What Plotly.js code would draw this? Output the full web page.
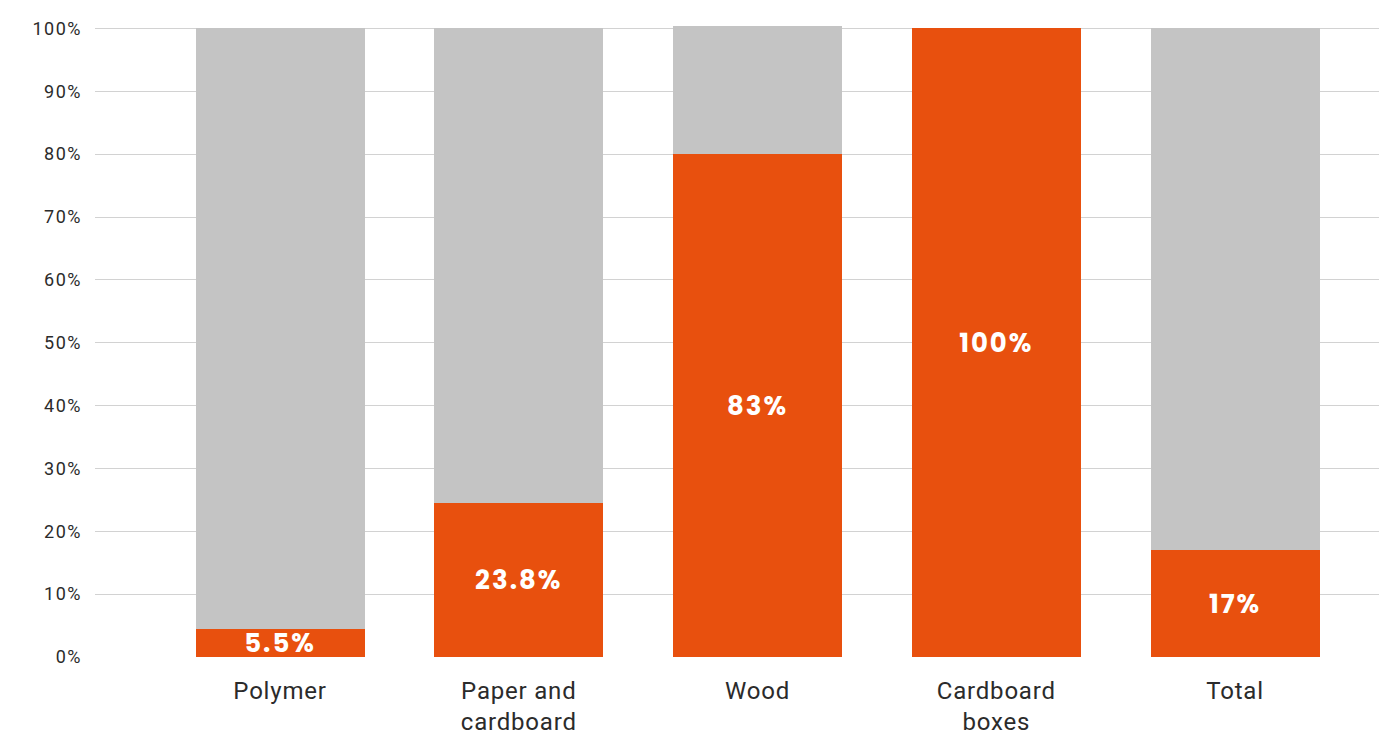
<!DOCTYPE html>
<html>
<head>
<meta charset="utf-8">
<script src="https://cdn.plot.ly/plotly-3.0.1.min.js"></script>
<style>
  html, body { margin: 0; padding: 0; background: #fff; }
  #chart { width: 1379px; height: 737px; }
  .ytick text { letter-spacing: 1.5px; }
  .xtick text { letter-spacing: 0.8px; }
  .bars .bartext { letter-spacing: 2px; }
</style>
</head>
<body>
<div id="chart"></div>
<script>
// Categories (x-axis tick labels)
const categories = ["Polymer", "Paper and<br>cardboard", "Wood", "Cardboard<br>boxes", "Total"];
// Orange (recycled) share, bar heights (%)
const recycledShare = [4.5, 24.5, 80.0, 100, 17.0];
// Grey (remainder) share stacked on top (%)
const remainderShare = [95.5, 75.5, 20.4, 0, 83.0];
// Labels printed inside the orange bars
const recycledLabels = ["5.5%", "23.8%", "83%", "100%", "17%"];
// Y tick values and labels
const yTickVals = [0, 10, 20, 30, 40, 50, 60, 70, 80, 90, 100];
const yTickText = ["0%", "10%", "20%", "30%", "40%", "50%", "60%", "70%", "80%", "90%", "100%"];

const orange = "#E8500E";
const grey = "#C4C4C4";

const traces = [
  {
    type: "bar",
    x: categories,
    y: recycledShare,
    text: recycledLabels,
    textposition: "inside",
    insidetextanchor: "middle",
    textangle: 0,
    constraintext: "none",
    textfont: { family: "Poppins, Lato, 'Open Sans', sans-serif", size: 26, color: "#ffffff", weight: 700 },
    marker: { color: orange, line: { width: 0 } },
    width: 0.708,
    hoverinfo: "skip"
  },
  {
    type: "bar",
    x: categories,
    y: remainderShare,
    marker: { color: grey, line: { width: 0 } },
    width: 0.708,
    hoverinfo: "skip"
  }
];

const layout = {
  width: 1379,
  height: 737,
  barmode: "stack",
  showlegend: false,
  paper_bgcolor: "#ffffff",
  plot_bgcolor: "#ffffff",
  margin: { l: 95, r: 0, t: 19, b: 80 },
  xaxis: {
    type: "category",
    range: [-0.775, 4.603],
    showgrid: false,
    zeroline: false,
    showline: false,
    ticks: "",
    ticklabelstandoff: 17,
    tickfont: { family: "Roboto, 'DejaVu Sans', sans-serif", size: 24, color: "#2b2b2b" },
    fixedrange: true
  },
  yaxis: {
    range: [0, 101.5],
    tickvals: yTickVals,
    ticktext: yTickText,
    showgrid: true,
    gridcolor: "#d2d2d2",
    gridwidth: 1,
    zeroline: false,
    showline: false,
    ticks: "",
    ticklabelstandoff: 12,
    tickfont: { family: "Roboto, 'DejaVu Sans', sans-serif", size: 18, color: "#2b2b2b" },
    fixedrange: true
  }
};

Plotly.newPlot("chart", traces, layout, { displayModeBar: false, staticPlot: true });
</script>
</body>
</html>
